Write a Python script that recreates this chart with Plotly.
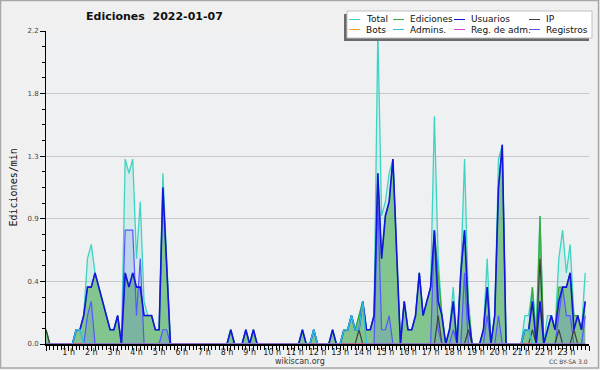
import plotly.graph_objects as go

# ---- data: 10-minute bins, edits per minute, 2022-01-07 ----
minutes = list(range(0, 1440, 10))

total = [
    0.1, 0, 0, 0, 0, 0,  0, 0, 0.1, 0.1, 0.2, 0.6,  0.7, 0.5, 0.4, 0.3, 0.2, 0.1,  0.1, 0.2, 0, 1.3, 1.2, 1.3,
    0.6, 1.0, 0.3, 0.2, 0.2, 0.1,  0.1, 1.2, 0.6, 0, 0, 0,  0, 0, 0, 0, 0, 0,  0, 0, 0, 0, 0, 0,
    0, 0.1, 0, 0, 0, 0.1,  0, 0.1, 0, 0, 0, 0,  0, 0, 0, 0, 0, 0,  0, 0, 0.1, 0, 0, 0.1,
    0, 0, 0, 0, 0.1, 0,  0, 0.1, 0.1, 0.2, 0.1, 0.2,  0.3, 0.1, 0.1, 0.2, 2.2, 0.9,  1.0, 1.2, 1.3, 0.6, 0, 0.3,
    0.1, 0.1, 0.2, 0.5, 0.2, 0.3,  0.4, 1.6, 0.6, 0.2, 0, 0.1,  0.4, 0, 0.5, 1.3, 0.3, 0,  0, 0, 0.1, 0.6, 0, 0.2,
    1.3, 1.4, 0, 0, 0, 0,  0, 0.2, 0.2, 0.4, 0.1, 0.9,  0, 0.2, 0.2, 0.1, 0.6, 0.8,  0.5, 0.7, 0.2, 0.2, 0.1, 0.5,
]
ediciones = [
    0.1, 0, 0, 0, 0, 0,  0, 0, 0.1, 0.1, 0.2, 0.4,  0.4, 0.5, 0.4, 0.3, 0.2, 0.1,  0.1, 0.2, 0, 0.5, 0.4, 0.5,
    0.4, 0.4, 0.2, 0.2, 0.2, 0.1,  0.1, 1.1, 0.5, 0, 0, 0,  0, 0, 0, 0, 0, 0,  0, 0, 0, 0, 0, 0,
    0, 0.1, 0, 0, 0, 0.1,  0, 0.1, 0, 0, 0, 0,  0, 0, 0, 0, 0, 0,  0, 0, 0.1, 0, 0, 0.1,
    0, 0, 0, 0, 0.1, 0,  0, 0.1, 0.1, 0.2, 0.1, 0.2,  0.3, 0.1, 0.1, 0.2, 1.2, 0.6,  0.9, 1.0, 1.3, 0.6, 0, 0.3,
    0.1, 0.1, 0.2, 0.5, 0.2, 0.3,  0.4, 0.8, 0.5, 0.2, 0, 0.1,  0.3, 0, 0.5, 0.8, 0.3, 0,  0, 0, 0.1, 0.4, 0, 0.2,
    1.1, 1.4, 0, 0, 0, 0,  0, 0.1, 0.1, 0.4, 0, 0.9,  0, 0.1, 0.2, 0.1, 0.4, 0.4,  0.4, 0.5, 0.2, 0.2, 0.1, 0.3,
]
usuarios = [
    0, 0, 0, 0, 0, 0,  0, 0, 0.1, 0.1, 0.2, 0.4,  0.4, 0.5, 0.4, 0.3, 0.2, 0.1,  0.1, 0.2, 0, 0.5, 0.4, 0.5,
    0.4, 0.4, 0.2, 0.2, 0.2, 0.1,  0.1, 1.1, 0.5, 0, 0, 0,  0, 0, 0, 0, 0, 0,  0, 0, 0, 0, 0, 0,
    0, 0.1, 0, 0, 0, 0.1,  0, 0.1, 0, 0, 0, 0,  0, 0, 0, 0, 0, 0,  0, 0, 0.1, 0, 0, 0.1,
    0, 0, 0, 0, 0.1, 0,  0, 0.1, 0.1, 0.2, 0.1, 0.1,  0.3, 0.1, 0.1, 0.2, 1.2, 0.6,  0.9, 1.0, 1.3, 0.6, 0, 0.3,
    0.1, 0.1, 0.2, 0.5, 0.2, 0.3,  0.4, 0.8, 0.3, 0.2, 0, 0.1,  0.3, 0, 0.5, 0.8, 0.2, 0,  0, 0, 0.1, 0.4, 0, 0.2,
    1.1, 1.4, 0, 0, 0, 0,  0, 0.1, 0.1, 0.3, 0, 0.3,  0, 0.1, 0.2, 0.1, 0.3, 0.4,  0.4, 0.5, 0.1, 0.2, 0.1, 0.3,
]
ip = [
    0.1, 0, 0, 0, 0, 0,  0, 0, 0, 0, 0, 0,  0, 0, 0, 0, 0, 0,  0, 0, 0, 0, 0, 0,
    0, 0, 0, 0, 0, 0,  0, 0, 0, 0, 0, 0,  0, 0, 0, 0, 0, 0,  0, 0, 0, 0, 0, 0,
    0, 0, 0, 0, 0, 0,  0, 0, 0, 0, 0, 0,  0, 0, 0, 0, 0, 0,  0, 0, 0, 0, 0, 0,
    0, 0, 0, 0, 0, 0,  0, 0, 0, 0, 0, 0.1,  0, 0, 0, 0, 0, 0,  0, 0, 0, 0, 0, 0,
    0, 0, 0, 0, 0, 0,  0, 0, 0.2, 0, 0, 0,  0, 0, 0, 0, 0.1, 0,  0, 0, 0, 0, 0, 0,
    0, 0, 0, 0, 0, 0,  0, 0, 0, 0.1, 0, 0.6,  0, 0, 0, 0, 0.1, 0,  0, 0, 0.1, 0, 0, 0,
]
registros = [
    0, 0, 0, 0, 0, 0,  0, 0, 0, 0, 0, 0.2,  0.3, 0, 0, 0, 0, 0,  0, 0, 0, 0.8, 0.8, 0.8,
    0.2, 0.6, 0, 0, 0, 0,  0, 0.1, 0.1, 0, 0, 0,  0, 0, 0, 0, 0, 0,  0, 0, 0, 0, 0, 0,
    0, 0, 0, 0, 0, 0,  0, 0, 0, 0, 0, 0,  0, 0, 0, 0, 0, 0,  0, 0, 0, 0, 0, 0,
    0, 0, 0, 0, 0, 0,  0, 0, 0, 0, 0, 0,  0, 0, 0, 0, 1.0, 0.1,  0.1, 0.2, 0, 0, 0, 0,
    0, 0, 0, 0, 0, 0,  0, 0.8, 0.1, 0, 0, 0,  0.1, 0, 0, 0.5, 0, 0,  0, 0, 0, 0.2, 0, 0,
    0.2, 0, 0, 0, 0, 0,  0, 0, 0, 0, 0, 0,  0, 0, 0, 0, 0.2, 0.4,  0.2, 0.2, 0, 0, 0, 0.2,
]
admins = [
    0, 0, 0, 0, 0, 0,  0, 0, 0.1, 0.1, 0, 0,  0, 0, 0, 0, 0, 0,  0, 0, 0, 0, 0, 0,
    0, 0, 0, 0, 0, 0,  0, 0, 0, 0, 0, 0,  0, 0, 0, 0, 0, 0,  0, 0, 0, 0, 0, 0,
    0, 0, 0, 0, 0, 0,  0, 0, 0, 0, 0, 0,  0, 0, 0, 0, 0, 0,  0, 0, 0, 0, 0, 0.1,
    0, 0, 0, 0, 0, 0,  0, 0.1, 0.1, 0.2, 0.1, 0.1,  0.3, 0, 0, 0, 0, 0,  0, 0, 0, 0, 0, 0,
    0, 0, 0, 0, 0, 0,  0, 0, 0, 0, 0, 0,  0, 0, 0, 0, 0, 0,  0, 0, 0, 0, 0, 0,
    0, 0, 0, 0, 0, 0,  0, 0.1, 0.1, 0, 0, 0,  0, 0, 0, 0, 0, 0,  0, 0, 0, 0, 0, 0,
]
bots = [
    0, 0, 0, 0, 0, 0,  0, 0, 0, 0, 0, 0,  0, 0, 0, 0, 0, 0,  0, 0, 0, 0, 0, 0,
    0, 0, 0, 0, 0, 0,  0, 0, 0, 0, 0, 0,  0, 0, 0, 0, 0, 0,  0, 0, 0, 0, 0, 0,
    0, 0, 0, 0, 0, 0,  0, 0, 0, 0, 0, 0,  0, 0, 0, 0, 0, 0,  0, 0, 0, 0, 0, 0,
    0, 0, 0, 0, 0, 0,  0, 0, 0, 0, 0, 0,  0, 0, 0, 0, 0, 0,  0, 0, 0, 0, 0, 0,
    0, 0, 0, 0, 0, 0,  0, 0, 0, 0, 0, 0,  0, 0, 0, 0, 0, 0,  0, 0, 0, 0, 0, 0,
    0, 0, 0, 0, 0, 0,  0, 0, 0, 0, 0, 0,  0, 0, 0, 0, 0, 0,  0, 0, 0, 0, 0, 0,
]
reg_adm = list(bots)

hour_ticks = list(range(0, 25))
hour_labels = [""] + [f"{h} h" for h in range(1, 24)] + [""]
y_ticks = [0, 0.44, 0.88, 1.32, 1.76, 2.2]
y_labels = ["0.0", "0.4", "0.9", "1.3", "1.8", "2.2"]

title_text = "Ediciones  2022-01-07"
y_title = "Ediciones/min"

# ---- layout geometry (pixels) ----
W, H = 600, 370
ML, MR, MT, MB = 46, 11, 31, 26
PW, PH = W - ML - MR, H - MT - MB


def px(x):
    return (x - ML) / PW


def py(y):
    return (H - MB - y) / PH


x = [m / 60 for m in minutes]

series = [
    # name, values, line colour, width, fill
    ("Total", total, "#3fd3c2", 1.3, "rgba(80,212,192,0.16)"),
    ("Ediciones", ediciones, "#3aaa3a", 1.2, "rgba(50,160,50,0.50)"),
    ("Registros", registros, "#5656ff", 1.2, "rgba(90,110,255,0.18)"),
    ("IP", ip, "#404040", 1.2, None),
    ("Usuarios", usuarios, "#1414e0", 1.6, None),
    ("Bots", bots, "#ff9a30", 1.0, None),
    ("Admins.", admins, "#2fbde0", 1.4, None),
    ("Reg. de adm.", reg_adm, "#d040d0", 1.0, None),
]

fig = go.Figure()
for name, vals, col, wdt, fillc in series:
    kw = {}
    if fillc:
        kw = dict(fill="tozeroy", fillcolor=fillc)
    fig.add_trace(go.Scatter(x=x, y=vals, mode="lines", name=name,
                             line=dict(color=col, width=wdt), showlegend=False,
                             hoverinfo="skip", **kw))

font = "DejaVu Sans"
fig.update_layout(
    width=W, height=H,
    margin=dict(l=ML, r=MR, t=MT, b=MB, pad=0, autoexpand=False),
    paper_bgcolor="#f0f0f0", plot_bgcolor="#eff0f2",
    font=dict(family=font, size=8, color="#222"),
    showlegend=False,
    xaxis=dict(range=[0, 24], tickmode="array", tickvals=hour_ticks, ticktext=hour_labels,
               ticks="outside", ticklen=5, tickwidth=1, tickcolor="black",
               ticklabelstandoff=-6, automargin=False,
               showline=True, linecolor="black", linewidth=2, showgrid=False, zeroline=False,
               tickfont=dict(size=8, color="#222"),
               minor=dict(tickmode="linear", tick0=0, dtick=1 / 6, ticks="outside",
                          ticklen=4, tickwidth=1, tickcolor="black", showgrid=False)),
    yaxis=dict(range=[0, 2.2], tickmode="array", tickvals=y_ticks, ticktext=y_labels,
               ticks="outside", ticklen=5, tickwidth=1, tickcolor="black",
               automargin=False,
               showline=True, linecolor="black", linewidth=1,
               showgrid=True, gridcolor="#c8c8c8", gridwidth=1, zeroline=False,
               tickfont=dict(size=7, color="#444"),
               minor=dict(tickmode="linear", tick0=0, dtick=0.11, ticks="outside",
                          ticklen=3, tickwidth=1, tickcolor="black", showgrid=False)),
)

ann = []
ann.append(dict(text=f"<b>{title_text}</b>", x=px(154), y=py(16.5), xref="paper", yref="paper",
                xanchor="center", yanchor="middle", showarrow=False,
                font=dict(family=font, size=11, color="#111")))
ann.append(dict(text=y_title, x=px(12.5), y=py(188), xref="paper", yref="paper",
                xanchor="center", yanchor="middle", showarrow=False, textangle=-90,
                font=dict(family="DejaVu Sans Mono", size=10, color="#111")))
ann.append(dict(text="wikiscan.org", x=px(300), y=py(361), xref="paper", yref="paper",
                xanchor="center", yanchor="middle", showarrow=False,
                font=dict(family=font, size=8, color="#333")))
ann.append(dict(text="CC BY-SA 3.0", x=px(590), y=py(361), xref="paper", yref="paper",
                xanchor="right", yanchor="middle", showarrow=False,
                font=dict(family=font, size=6, color="#444")))

shapes = []
# legend box with shadow
shapes.append(dict(type="rect", xref="paper", yref="paper", x0=px(344), x1=px(589),
                   y0=py(41), y1=py(14), fillcolor="#6a6a6a", line=dict(width=0), layer="above"))
shapes.append(dict(type="rect", xref="paper", yref="paper", x0=px(347), x1=px(592),
                   y0=py(38), y1=py(11), fillcolor="white", line=dict(color="#c0c0c0", width=1),
                   layer="above"))

legend_rows = [
    [("Total", "#3fd3c2"), ("Ediciones", "#3aaa3a"), ("Usuarios", "#1414e0"), ("IP", "#404040")],
    [("Bots", "#ff9a30"), ("Admins.", "#2fbde0"), ("Reg. de adm.", "#d040d0"), ("Registros", "#5656ff")],
]
col_x = [349, 393, 454, 529]
row_y = [19.5, 29.5]
for r, row in enumerate(legend_rows):
    for c, (name, col) in enumerate(row):
        x0 = col_x[c]
        yy = row_y[r]
        shapes.append(dict(type="line", xref="paper", yref="paper", x0=px(x0), x1=px(x0 + 11),
                           y0=py(yy), y1=py(yy), line=dict(color=col, width=1), layer="above"))
        ann.append(dict(text=name, x=px(x0 + 15), y=py(yy), xref="paper", yref="paper",
                        xanchor="left", yanchor="middle", showarrow=False,
                        font=dict(family=font, size=9, color="#111")))

# outer frame
shapes.append(dict(type="rect", xref="paper", yref="paper", x0=px(0.5), x1=px(598.5),
                   y0=py(368), y1=py(0.5), line=dict(color="#a8a8a8", width=1.5),
                   fillcolor="rgba(0,0,0,0)", layer="above"))

fig.update_layout(annotations=ann, shapes=shapes)
fig.write_html("out.html", config={"displayModeBar": False},
               post_script="document.body.style.margin='0px';document.body.style.padding='0px';"
                           "document.body.style.overflow='hidden';")
